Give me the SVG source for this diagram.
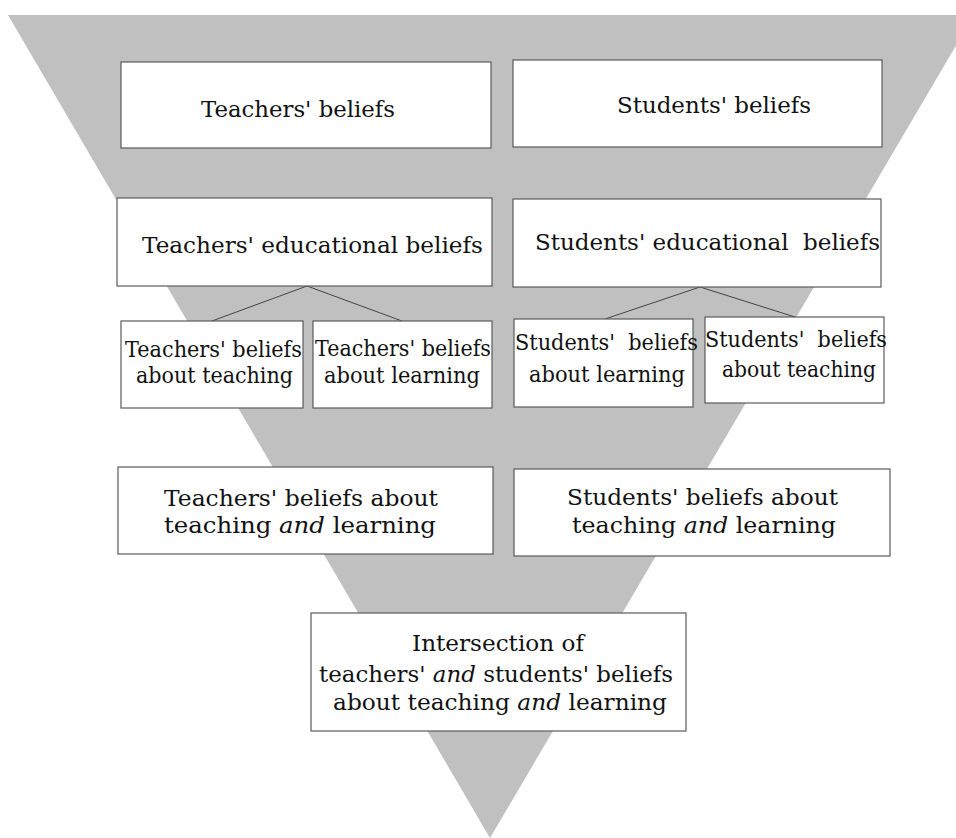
<svg xmlns="http://www.w3.org/2000/svg" width="956" height="838" viewBox="0 0 956 838">
<style>
.bx{fill:#fff;stroke:#5a5a5a;stroke-width:1.2}
.t{font-family:"DejaVu Serif","Liberation Serif",serif;font-size:22px;fill:#111}
.i{font-style:italic}
.ln{stroke:#444;stroke-width:1;fill:none}
</style>
<rect width="956" height="838" fill="#fff"/>
<polygon points="8,15 974,15 490,838" fill="#c0c0c0"/>
<g id="connectors">
<path class="ln" d="M307,286 L212,321 M307,286 L402,321"/>
<path class="ln" d="M700,287 L605,319 M700,287 L795,317"/>
</g>
<g id="teachers-beliefs"><rect class="bx" x="121" y="62" width="370" height="86"/>
<text class="t" x="201" y="117" textLength="194" lengthAdjust="spacingAndGlyphs">Teachers' beliefs</text></g>
<g id="students-beliefs"><rect class="bx" x="513" y="60" width="369" height="87"/>
<text class="t" x="617" y="113" textLength="194" lengthAdjust="spacingAndGlyphs">Students' beliefs</text></g>
<g id="teachers-educational"><rect class="bx" x="117" y="198" width="375" height="88"/>
<text class="t" x="142" y="253" textLength="341" lengthAdjust="spacingAndGlyphs">Teachers' educational beliefs</text></g>
<g id="students-educational"><rect class="bx" x="513" y="199" width="368" height="88"/>
<text class="t" x="535" y="250" textLength="345" lengthAdjust="spacingAndGlyphs" xml:space="preserve">Students' educational  beliefs</text></g>
<g id="teachers-teaching"><rect class="bx" x="121" y="321" width="182" height="87"/>
<text class="t" x="125" y="357" textLength="177" lengthAdjust="spacingAndGlyphs">Teachers' beliefs</text>
<text class="t" x="136" y="383" textLength="157" lengthAdjust="spacingAndGlyphs">about teaching</text></g>
<g id="teachers-learning"><rect class="bx" x="313" y="321" width="179" height="87"/>
<text class="t" x="315" y="356" textLength="176" lengthAdjust="spacingAndGlyphs">Teachers' beliefs</text>
<text class="t" x="324" y="383" textLength="156" lengthAdjust="spacingAndGlyphs">about learning</text></g>
<g id="students-learning"><rect class="bx" x="514" y="319" width="179" height="88"/>
<text class="t" x="515" y="350" textLength="183" lengthAdjust="spacingAndGlyphs" xml:space="preserve">Students'  beliefs</text>
<text class="t" x="529" y="382" textLength="156" lengthAdjust="spacingAndGlyphs">about learning</text></g>
<g id="students-teaching"><rect class="bx" x="705" y="317" width="179" height="86"/>
<text class="t" x="705" y="347" textLength="182" lengthAdjust="spacingAndGlyphs" xml:space="preserve">Students'  beliefs</text>
<text class="t" x="722" y="377" textLength="154" lengthAdjust="spacingAndGlyphs">about teaching</text></g>
<g id="teachers-tl"><rect class="bx" x="118" y="467" width="375" height="87"/>
<text class="t" x="164" y="506" textLength="274" lengthAdjust="spacingAndGlyphs">Teachers' beliefs about</text>
<text class="t" x="164" y="533" textLength="272" lengthAdjust="spacingAndGlyphs">teaching <tspan class="i">and</tspan> learning</text></g>
<g id="students-tl"><rect class="bx" x="514" y="469" width="376" height="87"/>
<text class="t" x="567" y="505" textLength="271" lengthAdjust="spacingAndGlyphs">Students' beliefs about</text>
<text class="t" x="572" y="533" textLength="264" lengthAdjust="spacingAndGlyphs">teaching <tspan class="i">and</tspan> learning</text></g>
<g id="intersection"><rect class="bx" x="311" y="613" width="375" height="118"/>
<text class="t" x="412" y="651" textLength="172" lengthAdjust="spacingAndGlyphs">Intersection of</text>
<text class="t" x="319" y="682" textLength="354" lengthAdjust="spacingAndGlyphs">teachers' <tspan class="i">and</tspan> students' beliefs</text>
<text class="t" x="333" y="710" textLength="334" lengthAdjust="spacingAndGlyphs">about teaching <tspan class="i">and</tspan> learning</text></g>
</svg>
